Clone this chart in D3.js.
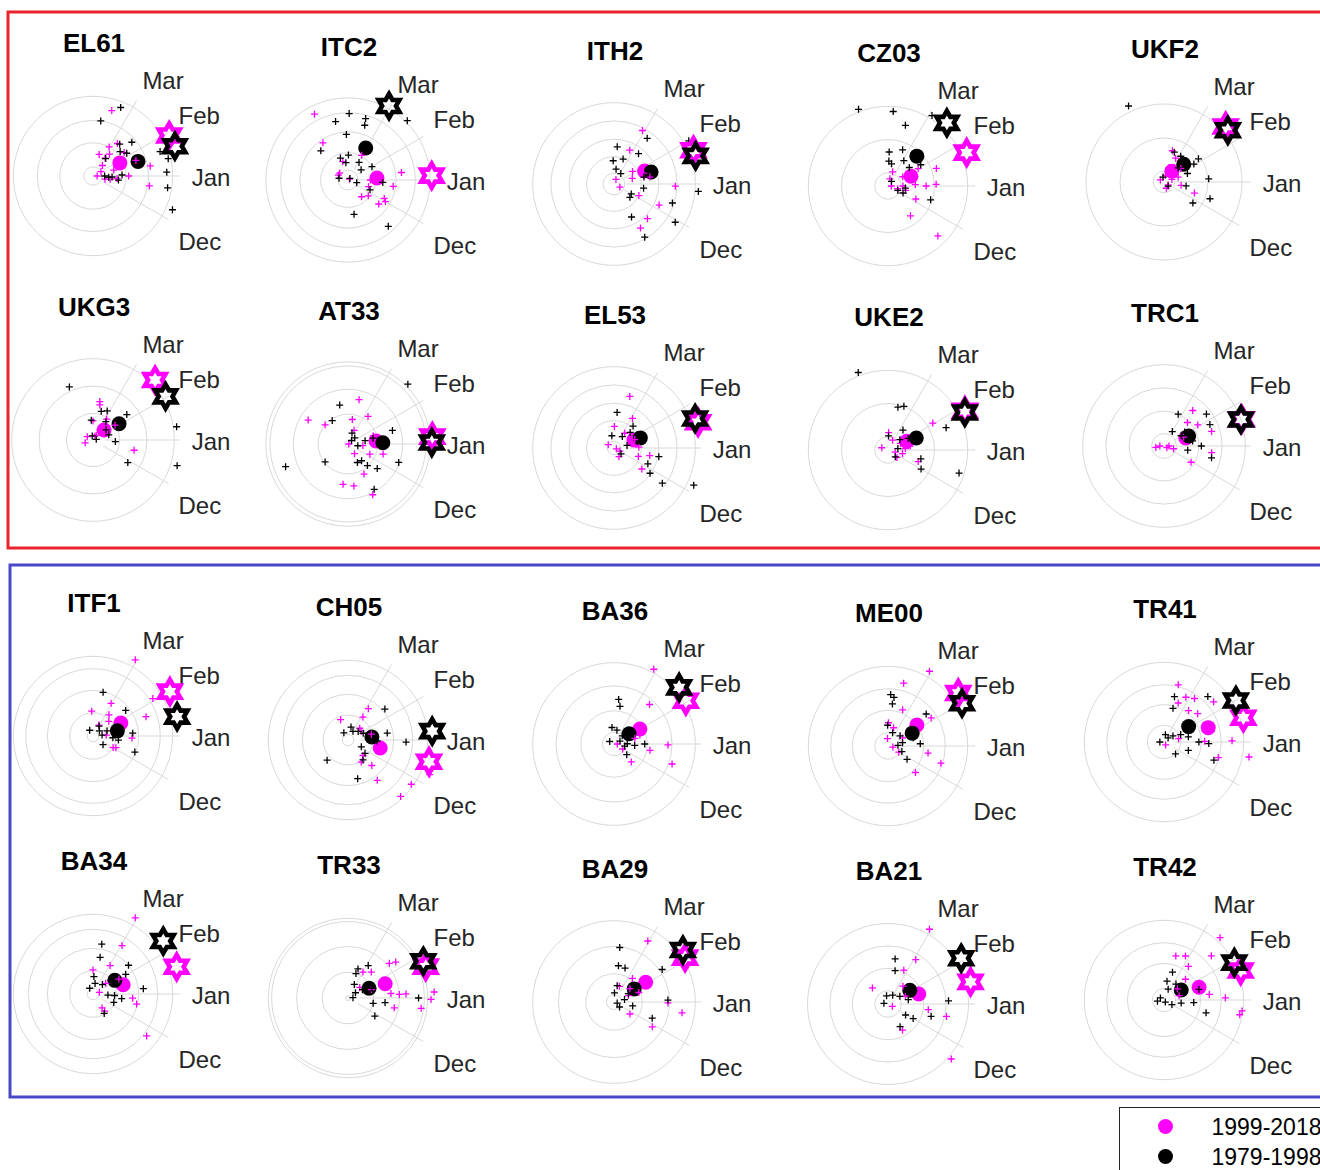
<!DOCTYPE html>
<html>
<head>
<meta charset="utf-8">
<script src="https://cdn.jsdelivr.net/npm/d3@7"></script>
<style>
  body { margin: 0; background: #fff; }
  svg { display: block; font-family: "Liberation Sans", Arial, sans-serif; }
</style>
</head>
<body>
<div class="chart"></div>
<script>
// Seasonality of annual maxima, 20 regions, two 20-year windows
// every point is [angle in degrees (Jan = 0, counter-clockwise), radius (outer ring ~ 1)]

var panelNames = ["EL61", "ITC2", "ITH2", "CZ03", "UKF2",
                  "UKG3", "AT33", "EL53", "UKE2", "TRC1",
                  "ITF1", "CH05", "BA36", "ME00", "TR41",
                  "BA34", "TR33", "BA29", "BA21", "TR42"];

var monthLabels = ["Dec", "Jan", "Feb", "Mar"];
var monthAngles = [-30, 0, 30, 60];

var legendLabels = ["1999-2018", "1979-1998"];

// radial grid circles of each panel
var ringTicks = [
  [0.11, 0.40, 0.67, 0.96], [0.12, 0.33, 0.58, 0.81, 0.99], [0.13, 0.33, 0.54, 0.76, 0.98], [0.16, 0.56, 0.96], [0.13, 0.53, 0.94],
  [0.32, 0.65, 0.98], [0.04, 0.36, 0.66, 0.94, 0.99], [0.08, 0.33, 0.54, 0.76, 0.98], [0.16, 0.56, 0.96], [0.15, 0.42, 0.70, 0.98],
  [0.07, 0.28, 0.55, 0.81, 0.96], [0.07, 0.30, 0.55, 0.78, 0.96], [0.14, 0.40, 0.70, 0.98], [0.16, 0.43, 0.69, 0.96], [0.20, 0.45, 0.69, 0.96],
  [0.07, 0.28, 0.55, 0.78, 0.96], [0.03, 0.31, 0.62, 0.92, 0.96], [0.09, 0.34, 0.67, 0.98], [0.16, 0.43, 0.70, 0.97], [0.14, 0.44, 0.69, 0.96]
];

// yearly events 1999-2018 (magenta)
var recentPts = [
  [[74,0.82],[74,0.27],[61,0.40],[53,0.49],[56,0.26],[53,0.33],[48,0.17],[0,0.05],[29,0.11],[-15,0.15],[-11,0.21],[-6,0.29],[0,0.43],[37,0.47],[20,0.55],[10,0.70],[-10,0.69],[16,0.26]],
  [[117,0.89],[124,0.54],[140,0.13],[28,0.02],[61,0.34],[0,0.27],[-18,0.26],[-8,0.55],[8,0.65],[-51,0.26],[-38,0.31],[-38,0.47],[-27,0.49],[-30,0.52],[106,0.23],[153,0.13]],
  [[62,0.73],[65,0.45],[67,0.06],[34,0.27],[17,0.23],[-28,0.08],[20,0.38],[-2,0.74],[-25,0.60],[-25,0.33],[-46,0.58],[-59,0.62],[11,0.44]],
  [[72,0.18],[32,0.21],[75,0.09],[0,0.04],[0,0.18],[3,0.33],[0,0.46],[2,0.58],[20,0.62],[30,0.42],[-25,0.37],[-53,0.45],[-45,0.85],[-14,0.22],[-16,0.12]],
  [[75,0.39],[64,0.32],[71,0.18],[77,0.08],[18,0.10],[19,0.18],[-34,0.06],[-11,0.21],[-20,0.39],[39,0.26],[-70,0.08],[150,0.05]],
  [[80,0.47],[79,0.43],[90,0.23],[57,0.30],[56,0.07],[56,0.15],[52,0.20],[26,0.18],[63,0.05],[-14,0.51],[34,0.32],[150,0.08],[200,0.10]],
  [[76,0.55],[149,0.56],[140,0.36],[80,0.30],[54,0.41],[66,0.18],[0,0.01],[18,0.32],[-56,0.14],[-25,0.29],[-16,0.44],[-62,0.41],[-97,0.49],[-82,0.51],[-64,0.68],[-6,0.18]],
  [[73,0.65],[89,0.26],[58,0.42],[-20,0.03],[-28,0.08],[2,0.30],[22,0.27],[-12,0.44],[-19,0.31],[-37,0.42],[54,0.22],[150,0.08],[-60,0.12]],
  [[31,0.63],[88,0.21],[65,0.13],[28,0.17],[5,0.21],[-16,0.09],[-14,0.18],[-21,0.39],[10,0.27],[160,0.08],[-40,0.14]],
  [[51,0.55],[45,0.40],[32,0.48],[17,0.60],[-30,0.04],[-16,0.12],[-31,0.38],[-8,0.58],[24,0.26],[0,0.06],[180,0.05],[190,0.10]],
  [[61,1.05],[61,0.45],[93,0.30],[53,0.32],[20,0.68],[32,0.85],[43,0.26],[4,0.16],[-3,0.47],[-27,0.31],[61,0.15],[-30,0.28]],
  [[110,0.26],[57,0.45],[57,0.33],[45,0.20],[34,0.19],[14,0.29],[-46,0.26],[-59,0.31],[-47,0.42],[-54,0.60],[-35,0.93],[-47,0.93],[-23,1.07],[-15,0.38]],
  [[62,1.02],[48,0.64],[0,0.04],[-10,0.44],[-1,0.65],[-46,0.30],[-19,0.74],[19,0.33],[15,0.26],[-30,0.12]],
  [[61,1.03],[76,0.78],[68,0.47],[89,0.28],[73,0.23],[94,0.09],[-12,0.06],[29,0.20],[33,0.62],[-10,0.49],[-18,0.67],[-44,0.46],[-30,0.15]],
  [[76,0.71],[64,0.60],[55,0.64],[52,0.48],[40,0.53],[39,0.77],[-60,0.04],[13,0.18],[1,0.49],[1,0.82],[-16,0.68],[-10,1.04],[70,0.50]],
  [[61,1.05],[59,0.68],[59,0.40],[90,0.29],[30,0.36],[15,0.08],[-6,0.48],[-13,0.54],[-57,0.20],[-56,0.25],[-38,0.82],[40,0.20]],
  [[40,0.65],[37,0.72],[60,0.36],[48,0.42],[42,0.19],[6,0.52],[4,0.62],[4,0.70],[-12,0.57],[-8,0.89],[-1,1.00],[4,1.04],[20,0.30]],
  [[61,0.84],[52,0.36],[71,0.20],[24,0.19],[21,0.32],[-37,0.24],[-33,0.55],[-9,0.83],[-1,0.65],[40,0.25]],
  [[61,1.03],[58,0.63],[65,0.45],[134,0.27],[50,0.28],[-28,0.06],[-12,0.72],[-8,0.49],[-61,0.36],[-41,1.01],[24,0.23]],
  [[48,1.01],[75,0.55],[64,0.59],[43,0.78],[54,0.50],[44,0.36],[40,0.21],[7,0.55],[2,0.74],[-11,0.93],[16,0.19],[-8,0.95]]
];

// yearly events 1979-1998 (black)
var earlyPts = [
  [[68,0.89],[82,0.67],[41,0.62],[42,0.44],[34,0.49],[54,0.26],[50,0.50],[0,0.14],[-5,0.19],[-3,0.23],[-9,0.31],[2,0.35],[20,0.86],[3,0.89],[-9,0.91],[-23,1.04],[13,0.93]],
  [[89,0.80],[102,0.72],[74,0.77],[73,0.69],[92,0.55],[133,0.48],[45,1.01],[109,0.28],[89,0.30],[97,0.21],[58,0.25],[29,0.33],[38,0.20],[169,0.11],[40,0.03],[-17,0.11],[-4,0.42],[-24,0.29],[-80,0.42],[-49,0.74]],
  [[54,0.68],[85,0.45],[51,0.47],[92,0.28],[70,0.32],[57,0.15],[82,0.18],[-30,0.24],[-40,0.25],[-8,0.36],[-18,0.74],[-32,0.87],[-62,0.45],[-60,0.74],[-5,1.02],[30,1.04],[13,0.37]],
  [[111,0.99],[86,0.90],[74,0.76],[58,1.00],[88,0.41],[68,0.47],[88,0.30],[81,0.27],[41,0.34],[58,0.36],[-24,0.13],[-7,0.21],[-25,0.20],[-18,0.54],[33,0.47],[53,0.07]],
  [[115,1.01],[71,0.38],[57,0.37],[34,0.50],[31,0.42],[101,0.06],[-45,0.07],[-10,0.27],[4,0.54],[-20,0.59],[-36,0.43],[45,0.24],[20,0.30]],
  [[114,0.70],[74,0.36],[64,0.39],[95,0.24],[55,0.27],[37,0.51],[38,0.20],[11,0.04],[18,0.20],[-4,0.27],[9,1.02],[-17,1.06],[-33,0.50],[100,0.05]],
  [[45,1.02],[102,0.48],[124,0.34],[70,0.14],[42,0.11],[45,0.06],[11,0.21],[17,0.56],[13,0.31],[-10,0.12],[218,0.35],[200,0.80],[-63,0.25],[-51,0.26],[-48,0.35],[-40,0.46],[-20,0.65],[-60,0.63]],
  [[85,0.43],[49,0.35],[54,0.17],[44,0.27],[29,0.32],[-40,0.11],[-11,0.55],[-25,0.45],[-35,0.53],[-36,0.72],[-25,1.06],[11,0.16],[100,0.15]],
  [[111,1.00],[77,0.53],[70,0.56],[53,0.30],[88,0.17],[41,0.19],[21,0.75],[8,0.12],[-43,0.12],[-15,0.41],[-30,0.46],[-18,0.90],[30,0.28]],
  [[66,0.42],[37,0.64],[25,0.61],[31,0.24],[34,0.30],[0,0.45],[-14,0.59],[-10,0.29],[10,0.35],[60,0.20]],
  [[77,0.54],[38,0.50],[59,0.14],[39,0.10],[6,0.11],[-5,0.24],[4,0.48],[-9,0.31],[-41,0.16],[-21,0.54],[120,0.08],[20,0.18]],
  [[40,0.58],[77,0.16],[60,0.12],[40,0.16],[24,0.20],[0,0.26],[10,0.48],[-2,0.70],[-27,0.18],[-38,0.26],[-53,0.30],[224,0.35],[-76,0.48],[-2,0.35],[120,0.10]],
  [[84,0.54],[81,0.46],[97,0.20],[78,0.17],[45,0.14],[1,0.16],[-4,0.25],[0,0.37],[-11,0.13],[26,0.08],[150,0.06],[-40,0.20]],
  [[83,0.59],[84,0.51],[40,0.60],[91,0.25],[71,0.17],[40,0.19],[18,0.32],[4,0.39],[13,0.18],[-22,0.18],[-35,0.28],[4,0.12],[87,0.62]],
  [[77,0.56],[75,0.42],[46,0.76],[79,0.09],[45,0.07],[34,0.13],[24,0.22],[12,0.30],[0,0.42],[-2,0.54],[-46,0.20],[-19,0.31],[-20,0.64],[180,0.05]],
  [[80,0.61],[79,0.45],[39,0.55],[31,0.46],[87,0.21],[79,0.13],[45,0.16],[-4,0.18],[-4,0.26],[-9,0.35],[6,0.61],[-22,0.27],[-60,0.27],[120,0.08]],
  [[71,0.37],[58,0.46],[72,0.31],[65,0.18],[35,0.11],[4,0.06],[22,0.31],[-12,0.31],[-7,0.45],[0,0.85],[-34,0.39],[30,0.20]],
  [[84,0.66],[83,0.44],[72,0.43],[34,0.70],[79,0.20],[87,0.11],[-18,0.04],[13,0.13],[-12,0.23],[2,0.65],[-23,0.50],[-42,0.09],[30,0.20]],
  [[81,0.55],[78,0.41],[62,0.12],[33,0.17],[12,0.25],[-32,0.25],[-30,0.35],[-16,0.54],[-62,0.31],[3,0.73],[100,0.10],[170,0.05]],
  [[73,0.35],[81,0.23],[53,0.24],[69,0.14],[-58,0.03],[-30,0.11],[-10,0.21],[-5,0.36],[-17,0.53],[17,0.44],[150,0.05],[190,0.08]]
];

// mean vectors (filled dots)
var recentMean = [[26,0.36],[4,0.35],[23,0.40],[23,0.30],[54,0.16],[42,0.18],[6,0.34],[22,0.26],[25,0.25],[20,0.28],
                  [25,0.37],[-14,0.40],[30,0.36],[36,0.43],[18,0.56],[17,0.38],[21,0.48],[32,0.45],[18,0.39],[20,0.45]];
var earlyMean = [[18,0.57],[61,0.44],[18,0.47],[46,0.50],[42,0.32],[32,0.37],[2,0.42],[21,0.34],[23,0.37],[22,0.32],
                 [12,0.30],[7,0.29],[34,0.22],[28,0.33],[32,0.35],[32,0.31],[25,0.28],[33,0.29],[32,0.31],[30,0.24]];

// mean timing (hexagrams on the rim)
var recentStar = [[28,1.04],[3,1.01],[23,1.04],[23,1.03],[42,1.00],[44,1.04],[5,1.02],[17,1.06],[27,1.04],[19,0.99],
                  [30,1.07],[-15,1.01],[31,1.01],[37,1.06],[17,1.00],[18,1.06],[22,1.01],[32,1.01],[15,1.03],[21,0.99]];
var earlyStar = [[20,1.05],[61,1.02],[19,1.04],[47,1.04],[39,0.99],[31,1.02],[1,1.01],[20,1.04],[26,1.03],[19,0.98],
                 [13,1.04],[6,1.02],[41,1.04],[30,1.03],[30,1.00],[37,1.06],[26,1.01],[37,1.04],[32,1.04],[28,0.96]];

// layout
var svgWidth = 1320;
var svgHeight = 1170;
var colX = [93, 348, 614, 888, 1164];
var colDy = [0, 4, 8, 10, 6];
var rowY = [176, 440, 736, 994];
var labelDy = [25, 10, -3, -1];   // Dec, Jan, Feb, Mar
var magenta = "#ff00ff";

var svg = d3.select(".chart")
  .append("svg")
  .attr("width", svgWidth)
  .attr("height", svgHeight);

// shared polar scales
var rScale = d3.scaleLinear().domain([0, 1]).range([0, 83]);
var angleScale = d3.scaleLinear().domain([0, 360]).range([Math.PI / 2, Math.PI / 2 - 2 * Math.PI]);

function polar(d) {
  return d3.pointRadial(angleScale(d[0]), rScale(d[1]));
}

// six pointed star, open centre
function hexagram(ro) {
  var ri = ro / Math.sqrt(3);
  var pts = d3.range(12).map(function (k) {
    var r = k % 2 === 0 ? ro : ri;
    var a = -Math.PI / 2 + k * Math.PI / 6;
    return [r * Math.cos(a), r * Math.sin(a)];
  });
  return "M" + pts.join("L") + "Z";
}

function plus(h) {
  return "M" + (-h) + ",0H" + h + "M0," + (-h) + "V" + h;
}

// group boxes
svg.append("rect")
  .attr("x", 8).attr("y", 12)
  .attr("width", 1340).attr("height", 536)
  .attr("fill", "none")
  .attr("stroke", "#e8232a")
  .attr("stroke-width", 3);

svg.append("rect")
  .attr("x", 10).attr("y", 565)
  .attr("width", 1340).attr("height", 532)
  .attr("fill", "none")
  .attr("stroke", "#4848c8")
  .attr("stroke-width", 3);

panelNames.forEach(function (name, i) {
  var col = i % 5;
  var row = Math.floor(i / 5);
  var cx = colX[col];
  var cy = rowY[row] + colDy[col];

  var g = svg.append("g")
    .attr("transform", `translate(${cx}, ${cy})`);

  // grid
  g.selectAll(".ring")
    .data(ringTicks[i])
    .enter()
    .append("circle")
    .attr("r", d => rScale(d))
    .attr("fill", "none")
    .attr("stroke", "#d9d9d9")
    .attr("stroke-width", 1);

  g.selectAll(".spoke")
    .data(monthAngles)
    .enter()
    .append("line")
    .attr("x1", d => polar([d, 0.14])[0])
    .attr("y1", d => polar([d, 0.14])[1])
    .attr("x2", d => polar([d, 1.05])[0])
    .attr("y2", d => polar([d, 1.05])[1])
    .attr("stroke", "#d9d9d9")
    .attr("stroke-width", 1);

  g.selectAll(".month")
    .data(monthLabels)
    .enter()
    .append("text")
    .attr("x", (d, k) => polar([monthAngles[k], 1.19])[0])
    .attr("y", (d, k) => polar([monthAngles[k], 1.19])[1] + labelDy[k])
    .attr("font-size", "24px")
    .attr("fill", "#262626")
    .text(d => d);

  g.append("text")
    .attr("x", 1)
    .attr("y", -124)
    .attr("text-anchor", "middle")
    .attr("font-size", "26px")
    .attr("font-weight", "bold")
    .attr("fill", "#000")
    .text(name);

  // mean vectors
  g.append("circle")
    .attr("cx", polar(recentMean[i])[0])
    .attr("cy", polar(recentMean[i])[1])
    .attr("r", 7.5)
    .attr("fill", magenta);

  g.append("circle")
    .attr("cx", polar(earlyMean[i])[0])
    .attr("cy", polar(earlyMean[i])[1])
    .attr("r", 7.5)
    .attr("fill", "#000");

  // yearly events
  g.selectAll(".recent")
    .data(recentPts[i])
    .enter()
    .append("path")
    .attr("d", plus(3.5))
    .attr("transform", d => `translate(${polar(d)})`)
    .attr("stroke", magenta)
    .attr("stroke-width", 1.3);

  g.selectAll(".early")
    .data(earlyPts[i])
    .enter()
    .append("path")
    .attr("d", plus(3.5))
    .attr("transform", d => `translate(${polar(d)})`)
    .attr("stroke", "#000")
    .attr("stroke-width", 1.3);

  // hexagrams
  [[recentStar[i], magenta], [earlyStar[i], "#000"]].forEach(function (s) {
    g.append("path")
      .attr("d", hexagram(12))
      .attr("transform", `translate(${polar(s[0])})`)
      .attr("fill", "none")
      .attr("stroke", s[1])
      .attr("stroke-width", 4.6)
      .attr("stroke-linejoin", "miter")
      .attr("stroke-miterlimit", 4);
  });
});

// legend
var legend = svg.append("g")
  .attr("transform", "translate(1119.5, 1107.5)");

legend.append("rect")
  .attr("width", 260)
  .attr("height", 100)
  .attr("fill", "#fff")
  .attr("stroke", "#262626")
  .attr("stroke-width", 1);

legend.selectAll(".key")
  .data(legendLabels)
  .enter()
  .append("circle")
  .attr("cx", 46)
  .attr("cy", (d, k) => 19 + k * 30)
  .attr("r", 7.5)
  .attr("fill", (d, k) => k === 0 ? magenta : "#000");

legend.selectAll(".lab")
  .data(legendLabels)
  .enter()
  .append("text")
  .attr("x", 92)
  .attr("y", (d, k) => 27 + k * 30)
  .attr("font-size", "23px")
  .attr("fill", "#000")
  .text(d => d);
</script>
</body>
</html>
